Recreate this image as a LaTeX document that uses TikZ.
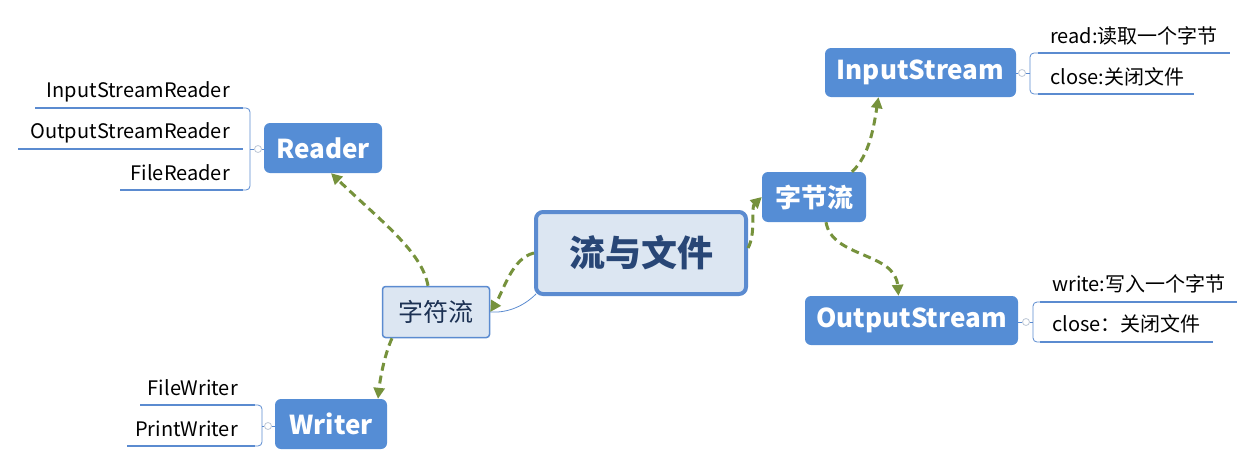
\documentclass[tikz,border=0pt]{standalone}
\usepackage{fontspec}
\setmainfont{Noto Sans CJK SC}
\usepackage{tikz}
\usetikzlibrary{positioning}
\usetikzlibrary{arrows.meta}

\definecolor{boxblue}{RGB}{85,141,213}
\definecolor{paleblue}{RGB}{220,230,242}
\definecolor{edgeblue}{RGB}{91,139,208}
\definecolor{flowgreen}{RGB}{118,146,60}
\definecolor{navytext}{RGB}{40,70,118}
\definecolor{knotgray}{RGB}{190,200,215}

\newcommand{\fsz}[1]{\fontsize{#1}{#1}\selectfont}

\tikzset{
  mainbox/.style={draw=edgeblue, line width=4, fill=paleblue, rounded corners=7,
    text=navytext, font=\fsz{36}\bfseries, minimum width=210, minimum height=82, inner sep=0},
  subbox/.style={fill=boxblue, rounded corners=6, text=white,
    font=\fsz{26}\bfseries, inner sep=0},
  plainbox/.style={draw=edgeblue, line width=1.5, fill=paleblue, rounded corners=3,
    text=navytext!70!black, font=\fsz{25}, inner sep=0},
  leaf/.style={font=\fsz{20}, inner sep=0},
  uline/.style={draw=edgeblue, line width=2.5},
  bracket/.style={draw=edgeblue, line width=0.8, rounded corners=4},
  knot/.style={circle, draw=knotgray, fill=white, line width=0.8, inner sep=0, minimum size=7},
  flow/.style={-{Triangle[length=11pt, width=11pt]}, draw=flowgreen,
    line width=3, dash pattern=on 8pt off 5pt},
  link/.style={draw=edgeblue, line width=0.8},
}

\begin{document}
\begin{tikzpicture}[x=1pt, y=-1pt]
    \useasboundingbox (0,0) rectangle (1254,466);
    % nodes %
    \node[mainbox] (flow) at (641,253) {流与文件};
    \node[subbox, minimum width=104, minimum height=50] (bytes) at (814,197) {字节流};
    \node[subbox, minimum width=191, minimum height=49] (ins) at (920.5,72.5) {InputStream};
    \node[subbox, minimum width=213, minimum height=49] (outs) at (911.5,320.5) {OutputStream};
    \node[plainbox, minimum width=107, minimum height=51] (chars) at (436,312) {字符流};
    \node[subbox, minimum width=118, minimum height=50] (rdr) at (323,148) {Reader};
    \node[subbox, minimum width=112, minimum height=50] (wtr) at (331,424) {Writer};
    % leaves %
    \node[leaf, anchor=base east] (isr) at (230,97) {InputStreamReader};
    \node[leaf, anchor=base east] (osr) at (230,138) {OutputStreamReader};
    \node[leaf, anchor=base east] (frd) at (230,180) {FileReader};
    \node[leaf, anchor=base east] (fwr) at (238,395) {FileWriter};
    \node[leaf, anchor=base east] (pwr) at (238,436) {PrintWriter};
    \node[leaf, anchor=base west] (rdb) at (1050,43) {read:读取一个字节};
    \node[leaf, anchor=base west] (icl) at (1050,84) {close:关闭文件};
    \node[leaf, anchor=base west] (wrb) at (1052,291) {write:写入一个字节};
    \node[leaf, anchor=base west] (ocl) at (1052,331) {close：关闭文件};
    % underlines and brackets %
    \draw[uline] (35,108) -- (243,108);
    \draw[uline] (18,149) -- (243,149);
    \draw[uline] (120,190) -- (243,190);
    \draw[bracket] (243,108) -- (250,108) -- (250,190) -- (243,190);
    \node[knot] (rdrk) at (258,149) {};
    \draw[bracket] (250,149) -- (rdrk) -- (rdr.west |- rdrk);
    \draw[uline] (140,405) -- (255,405);
    \draw[uline] (127,446) -- (255,446);
    \draw[bracket] (255,405) -- (262,405) -- (262,446) -- (255,446);
    \node[knot] (wtrk) at (268,426) {};
    \draw[bracket] (262,426) -- (wtrk) -- (wtr.west |- wtrk);
    \draw[uline] (1038,53) -- (1230,53);
    \draw[uline] (1038,94) -- (1194,94);
    \draw[bracket] (1038,53) -- (1030,53) -- (1030,94) -- (1038,94);
    \node[knot] (insk) at (1022,73) {};
    \draw[bracket] (1030,73) -- (insk) -- (ins.east |- insk);
    \draw[uline] (1040,302) -- (1237,302);
    \draw[uline] (1040,342) -- (1213,342);
    \draw[bracket] (1040,302) -- (1033,302) -- (1033,342) -- (1040,342);
    \node[knot] (outk) at (1026,322) {};
    \draw[bracket] (1033,322) -- (outk) -- (outs.east |- outk);
    % edges %
    \draw[link] ([xshift=2pt, yshift=2pt]flow.south west) .. controls (522,308) and (505,313) .. (chars.east);
    \draw[flow] (flow.west) .. controls (512,258) and (504,290) .. (chars.east);
    \draw[flow] ([xshift=-8pt]chars.north) .. controls (422,252) and (382,222) .. ([xshift=8pt]rdr.south);
    \draw[flow] ([xshift=-44pt]chars.south) .. controls (384,356) and (380,380) .. ([xshift=47pt]wtr.north);
    \draw[flow] ([yshift=5pt]flow.east) .. controls (756,234) and (751,207) .. (bytes.west);
    \draw[flow] ([xshift=38pt]bytes.north) .. controls (870,155) and (874,125) .. ([xshift=-42pt]ins.south);
    \draw[flow] ([xshift=12pt]bytes.south) .. controls (832,258) and (895,252) .. ([xshift=-13pt]outs.north);
  \end{tikzpicture}
\end{document}
